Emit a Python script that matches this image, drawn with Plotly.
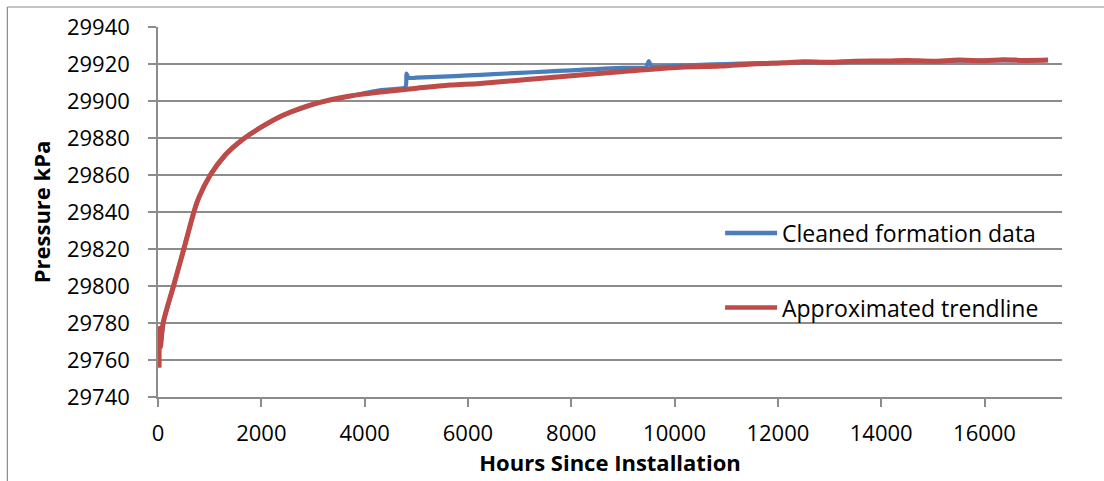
import plotly.graph_objects as go

# Cleaned formation data (hours, kPa)
blue_hours = [20, 25, 45, 100, 300, 500, 690, 786, 1012, 1302, 1626, 2013, 2431, 3077,
              3722, 4300, 4790, 4810, 4850, 5000, 5500, 6000, 6500, 7000, 7500, 8000,
              8500, 9000, 9450, 9500, 9560, 10000, 10500, 11000, 11500, 12000, 13000,
              14000, 15000, 16000, 17200]
blue_kpa = [29756, 29777, 29767, 29780, 29800, 29820, 29839.5, 29847.5, 29860, 29870.8,
            29878.9, 29886.1, 29892.4, 29898.8, 29902.7, 29905.8, 29907.5, 29914.8,
            29912.5, 29912.6, 29913.2, 29913.8, 29914.5, 29915.2, 29915.9, 29916.6,
            29917.3, 29917.9, 29918.3, 29921.5, 29918.6, 29919.0, 29919.6, 29920.0,
            29920.3, 29920.6, 29921.0, 29921.3, 29921.6, 29921.9, 29922.1]

# Approximated trendline (hours, kPa)
red_hours = [20, 25, 45, 100, 300, 500, 690, 786, 1012, 1302, 1626, 2013, 2431, 3077,
             3722, 4367, 5012, 5657, 6240, 7200, 8175, 8950, 10110, 10885, 11500, 12174,
             12500, 13000, 13500, 14110, 14500, 15000, 15500, 16000, 16360, 16800, 17230]
red_kpa = [29756, 29777, 29767, 29780, 29800, 29820, 29839.5, 29847.5, 29860, 29870.8,
           29878.9, 29886.1, 29892.4, 29898.8, 29902.7, 29905.0, 29906.9, 29908.6,
           29909.5, 29911.8, 29914.0, 29915.8, 29918.2, 29918.9, 29920.0, 29920.7,
           29921.2, 29920.9, 29921.5, 29921.6, 29921.9, 29921.5, 29922.1, 29921.8,
           29922.3, 29921.9, 29922.1]

x_ticks = [0, 2000, 4000, 6000, 8000, 10000, 12000, 14000, 16000]
y_ticks = [29740, 29760, 29780, 29800, 29820, 29840, 29860, 29880, 29900, 29920, 29940]

BLUE = "#4A7EBB"
RED = "#BE4B48"
GRID = "#8C8C8C"
FONT = "Open Sans"

fig = go.Figure()
fig.add_trace(go.Scatter(x=blue_hours, y=blue_kpa, mode="lines",
                         line=dict(color=BLUE, width=4.2, shape="spline", smoothing=0.5),
                         name="Cleaned formation data", showlegend=False))
fig.add_trace(go.Scatter(x=red_hours, y=red_kpa, mode="lines",
                         line=dict(color=RED, width=5, shape="spline", smoothing=1.0),
                         name="Approximated trendline", showlegend=False))

L, R, T, B = 157.7, 42, 27, 84
W, H = 1104, 481
pw, ph = W - L - R, H - T - B

def px(xp):
    return (xp - L) / pw

def py(yp):
    return (H - B - yp) / ph

shapes = [
    # outer chart border (left and top visible)
    dict(type="line", xref="paper", yref="paper", x0=px(7), x1=px(1110), y0=py(7), y1=py(7),
         line=dict(color="#8A8A8A", width=1.2)),
    dict(type="line", xref="paper", yref="paper", x0=px(7), x1=px(7), y0=py(7), y1=py(490),
         line=dict(color="#8A8A8A", width=1.2)),
    # legend keys
    dict(type="line", xref="paper", yref="paper", x0=px(725), x1=px(777), y0=py(233), y1=py(233),
         line=dict(color=BLUE, width=4.5)),
    dict(type="line", xref="paper", yref="paper", x0=px(725), x1=px(777), y0=py(307.5), y1=py(307.5),
         line=dict(color=RED, width=4.5)),
]
annotations = [
    dict(xref="paper", yref="paper", x=px(780), y=py(233), text="Cleaned formation data",
         showarrow=False, xanchor="left", yanchor="middle",
         font=dict(family=FONT, size=23, color="black")),
    dict(xref="paper", yref="paper", x=px(780), y=py(307.5), text="Approximated trendline",
         showarrow=False, xanchor="left", yanchor="middle",
         font=dict(family=FONT, size=23, color="black")),
]

fig.update_layout(
    width=W, height=H,
    margin=dict(l=L, r=R, t=T, b=B, autoexpand=False),
    paper_bgcolor="white", plot_bgcolor="white",
    font=dict(family=FONT, size=22, color="black"),
    shapes=shapes, annotations=annotations,
    showlegend=False,
)
fig.update_xaxes(
    range=[0, 17500], tickvals=x_ticks, ticktext=[str(v) for v in x_ticks],
    showgrid=False, zeroline=False,
    showline=True, linecolor=GRID, linewidth=1.5,
    ticks="outside", ticklen=8, tickcolor=GRID, tickwidth=1.5,
    ticklabelstandoff=8,
    title=dict(text="<b>Hours Since Installation</b>", standoff=6,
               font=dict(family=FONT, size=22, color="black")),
)
fig.update_yaxes(
    range=[29740, 29940], tickvals=y_ticks, ticktext=[str(v) for v in y_ticks],
    showgrid=True, gridcolor=GRID, gridwidth=1.5, zeroline=False,
    showline=True, linecolor=GRID, linewidth=1.5,
    ticks="outside", ticklen=8, tickcolor=GRID, tickwidth=1.5,
    ticklabelstandoff=14,
    title=dict(text="<b>Pressure kPa</b>", standoff=10,
               font=dict(family=FONT, size=22, color="black")),
)

fig.write_html("out.html")
